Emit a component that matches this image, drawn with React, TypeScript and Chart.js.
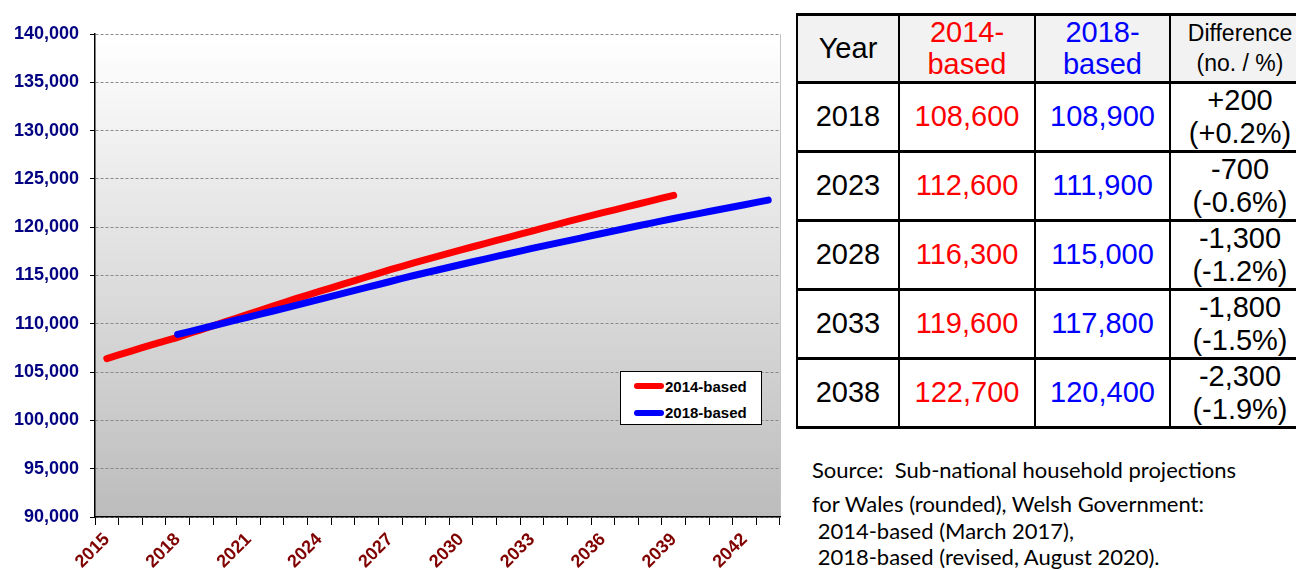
import React, { useEffect, useRef } from "react";
import { Chart, registerables } from "chart.js";

Chart.register(...registerables);

const categories = [
  "2015", "2016", "2017", "2018", "2019", "2020", "2021", "2022", "2023", "2024",
  "2025", "2026", "2027", "2028", "2029", "2030", "2031", "2032", "2033", "2034",
  "2035", "2036", "2037", "2038", "2039", "2040", "2041", "2042", "2043",
];
const labelledYears = ["2015", "2018", "2021", "2024", "2027", "2030", "2033", "2036", "2039", "2042"];

// 2014-based: 2015..2039
const values2014 = [
  106400, 107150, 107900, 108600, 109400, 110200, 111000, 111800, 112600,
  113350, 114100, 114850, 115600, 116300,
  116980, 117650, 118300, 118950, 119600,
  120250, 120880, 121500, 122100, 122700, 123300,
];
// 2018-based: 2018..2043
const values2018 = [
  108900, 109500, 110100, 110700, 111300, 111900,
  112520, 113140, 113760, 114380, 115000,
  115570, 116140, 116700, 117250, 117800,
  118330, 118850, 119370, 119890, 120400,
  120900, 121380, 121860, 122330, 122800,
];

const seriesNames = ["2014-based", "2018-based"];
const seriesColors = ["#ff0000", "#0000ff"];

const yMin = 90000;
const yMax = 140000;
const yStep = 5000;

// table
const tableYears = ["2018", "2023", "2028", "2033", "2038"];
const table2014 = ["108,600", "112,600", "116,300", "119,600", "122,700"];
const table2018 = ["108,900", "111,900", "115,000", "117,800", "120,400"];
const tableDiff = ["+200", "-700", "-1,300", "-1,800", "-2,300"];
const tableDiffPct = ["(+0.2%)", "(-0.6%)", "(-1.2%)", "(-1.5%)", "(-1.9%)"];

const sourceLines = [
  "Source:  Sub-national household projections",
  "for Wales (rounded), Welsh Government:",
  " 2014-based (March 2017),",
  " 2018-based (revised, August 2020).",
];

const bgPlugin = {
  id: "plotBg",
  beforeDraw(chart: any) {
    const { ctx, chartArea: a } = chart;
    const g = ctx.createLinearGradient(0, a.top, 0, a.bottom);
    g.addColorStop(0, "#ffffff");
    g.addColorStop(1, "#bcbcbc");
    ctx.save();
    ctx.fillStyle = g;
    ctx.fillRect(a.left, a.top, a.right - a.left, a.bottom - a.top);
    ctx.strokeStyle = "#c4c4c4";
    ctx.lineWidth = 1;
    ctx.beginPath();
    ctx.moveTo(a.right + 0.5, a.top);
    ctx.lineTo(a.right + 0.5, a.bottom);
    ctx.stroke();
    ctx.restore();
  },
};

const FONT = "'Liberation Sans', Arial, sans-serif";

function LineChart() {
  const ref = useRef<HTMLCanvasElement | null>(null);
  useEffect(() => {
    if (!ref.current) return;
    const d2014 = categories.map((_, i) => (i < values2014.length ? values2014[i] : null));
    const offset2018 = categories.indexOf("2018");
    const d2018 = categories.map((_, i) => (i >= offset2018 ? values2018[i - offset2018] ?? null : null));
    const chart = new Chart(ref.current, {
      type: "line",
      data: {
        labels: categories,
        datasets: [
          {
            label: seriesNames[0],
            data: d2014,
            borderColor: seriesColors[0],
            backgroundColor: seriesColors[0],
            borderWidth: 7,
            borderCapStyle: "round",
            borderJoinStyle: "round",
            pointRadius: 0,
            tension: 0.3,
            order: 2,
          },
          {
            label: seriesNames[1],
            data: d2018,
            borderColor: seriesColors[1],
            backgroundColor: seriesColors[1],
            borderWidth: 7,
            borderCapStyle: "round",
            borderJoinStyle: "round",
            pointRadius: 0,
            tension: 0.3,
            order: 1,
          },
        ],
      },
      options: {
        animation: false,
        responsive: false,
        devicePixelRatio: 1,
        layout: { padding: { left: 0, top: 34, right: 10, bottom: 0 } },
        plugins: {
          legend: { display: false },
          tooltip: { enabled: false },
        },
        scales: {
          x: {
            type: "category",
            offset: true,
            grid: {
              offset: true,
              display: true,
              drawOnChartArea: false,
              drawTicks: true,
              tickLength: 8,
              tickColor: "#000000",
              tickWidth: 1,
            },
            border: { display: true, color: "#000000", width: 1.5 },
            ticks: {
              autoSkip: false,
              minRotation: 45,
              maxRotation: 45,
              padding: 4,
              color: "#800000",
              font: { family: FONT, size: 18, weight: "bold" },
              callback: function (this: any, _v: any, i: number) {
                const lab = categories[i];
                return labelledYears.includes(lab) ? lab : "";
              },
            },
            afterFit(scale: any) {
              scale.height = 53;
            },
          },
          y: {
            min: yMin,
            max: yMax,
            grid: {
              color: "#8a8a8a",
              lineWidth: 1,
              drawTicks: true,
              tickLength: 5,
              tickColor: "#000000",
            },
            border: { display: true, color: "#000000", width: 1.5, dash: [3, 2] },
            ticks: {
              stepSize: yStep,
              padding: 11,
              color: "#000080",
              font: { family: FONT, size: 18, weight: "bold" },
              callback: (v: any) => Number(v).toLocaleString("en-US"),
            },
            afterFit(scale: any) {
              scale.width = 95;
            },
          },
        },
      },
      plugins: [bgPlugin],
    });
    return () => chart.destroy();
  }, []);
  return <canvas ref={ref} width={790} height={570} style={{ position: "absolute", left: 0, top: 0, width: 790, height: 570 }} />;
}

const colX = [797, 899, 1035, 1170, 1310];
const rowY = [14, 82, 151, 220, 289, 358, 427];

function Cell({ r, c, bg, children }: { r: number; c: number; bg: string; children: React.ReactNode }) {
  const left = colX[c] - 1;
  const top = rowY[r] - 1.5;
  const width = colX[c + 1] - colX[c] + 2;
  const height = rowY[r + 1] - rowY[r] + 3;
  return (
    <div
      style={{
        position: "absolute",
        left,
        top,
        width,
        height,
        boxSizing: "border-box",
        borderLeft: "2px solid #000",
        borderRight: "2px solid #000",
        borderTop: "3px solid #000",
        borderBottom: "3px solid #000",
        background: bg,
        display: "flex",
        flexDirection: "column",
        alignItems: "center",
        justifyContent: "center",
        fontFamily: FONT,
        whiteSpace: "pre",
      }}
    >
      {children}
    </div>
  );
}

function DataTable() {
  const hdr = "#f2f2f2";
  const cells: React.ReactNode[] = [];
  cells.push(
    <Cell key="h0" r={0} c={0} bg={hdr}>
      <div style={{ fontSize: 29, lineHeight: "32px", color: "#000" }}>Year</div>
    </Cell>
  );
  cells.push(
    <Cell key="h1" r={0} c={1} bg={hdr}>
      <div style={{ fontSize: 29, lineHeight: "32px", color: seriesColors[0], textAlign: "center" }}>
        {"2014-"}
        <br />
        {"based"}
      </div>
    </Cell>
  );
  cells.push(
    <Cell key="h2" r={0} c={2} bg={hdr}>
      <div style={{ fontSize: 29, lineHeight: "32px", color: seriesColors[1], textAlign: "center" }}>
        {"2018-"}
        <br />
        {"based"}
      </div>
    </Cell>
  );
  cells.push(
    <Cell key="h3" r={0} c={3} bg={hdr}>
      <div style={{ fontSize: 23, lineHeight: "30px", color: "#000", textAlign: "center" }}>
        {"Difference"}
        <br />
        {"(no. / %)"}
      </div>
    </Cell>
  );
  tableYears.forEach((y, i) => {
    const r = i + 1;
    cells.push(
      <Cell key={"y" + i} r={r} c={0} bg="#fff">
        <div style={{ fontSize: 29, color: "#000" }}>{y}</div>
      </Cell>
    );
    cells.push(
      <Cell key={"a" + i} r={r} c={1} bg="#fff">
        <div style={{ fontSize: 29, color: seriesColors[0] }}>{table2014[i]}</div>
      </Cell>
    );
    cells.push(
      <Cell key={"b" + i} r={r} c={2} bg="#fff">
        <div style={{ fontSize: 29, color: seriesColors[1] }}>{table2018[i]}</div>
      </Cell>
    );
    cells.push(
      <Cell key={"d" + i} r={r} c={3} bg="#fff">
        <div style={{ fontSize: 29, lineHeight: "33px", color: "#000", textAlign: "center" }}>
          {tableDiff[i]}
          <br />
          {tableDiffPct[i]}
        </div>
      </Cell>
    );
  });
  return <>{cells}</>;
}

function Legend() {
  const rowsTop = [385, 411.5];
  return (
    <div
      style={{
        position: "absolute",
        left: 620,
        top: 371,
        width: 142,
        height: 54,
        boxSizing: "border-box",
        border: "1px solid #000",
        background: "#fff",
      }}
    >
      {seriesNames.map((name, i) => (
        <div key={name} style={{ position: "absolute", left: 0, top: rowsTop[i] - 371 - 10, height: 20, display: "flex", alignItems: "center" }}>
          <div style={{ marginLeft: 13, width: 30, height: 6, borderRadius: 3, background: seriesColors[i] }} />
          <div style={{ marginLeft: 1, fontFamily: FONT, fontWeight: "bold", fontSize: 15, color: "#000", whiteSpace: "pre" }}>{name}</div>
        </div>
      ))}
    </div>
  );
}

function Source() {
  const baselines = [480, 514, 541, 567];
  const fs = 22;
  return (
    <>
      {sourceLines.map((t, i) => (
        <div
          key={i}
          style={{
            position: "absolute",
            left: 812,
            top: baselines[i] - fs * 0.95,
            fontFamily: "Lato, 'Open Sans', sans-serif",
            fontSize: fs,
            lineHeight: `${fs}px`,
            color: "#000",
            whiteSpace: "pre",
          }}
        >
          {t}
        </div>
      ))}
    </>
  );
}

export default function App() {
  return (
    <div style={{ position: "absolute", left: 0, top: 0, width: 1296, height: 570, overflow: "hidden", background: "#fff" }}>
      <LineChart />
      <Legend />
      <DataTable />
      <Source />
    </div>
  );
}
